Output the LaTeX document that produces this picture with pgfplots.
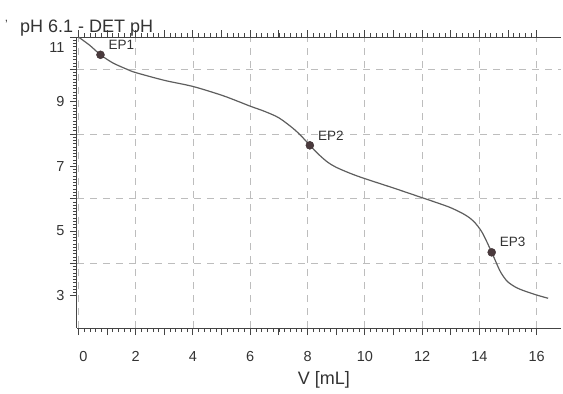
\documentclass[border=0pt]{standalone}
\usepackage{pgfplots}
\pgfplotsset{compat=1.18}
\usepackage{fontspec}
\setmainfont{Liberation Sans}
\definecolor{txt}{HTML}{333333}
\definecolor{curve}{HTML}{5E5E5E}
\definecolor{gridc}{HTML}{BDBDBD}
\definecolor{mk}{HTML}{4A3A3D}
\definecolor{axc}{HTML}{444444}
\begin{document}
\begin{tikzpicture}
\begin{axis}[
  name=ax,
  scale only axis, width=484pt, height=291pt,
  xmin=-0.05, xmax=16.85, ymin=2, ymax=11,
  separate axis lines,
  axis x line*=box, axis y line*=left,
  axis line style={draw=axc, line width=1pt},
  clip=false,
  xtick={0,2,...,16}, ytick={3,5,7,9,11},
  xticklabels={\hspace{10pt}0,2,4,6,8,10,12,14,16},
  yticklabels={3,5,7,9,\smash{\raisebox{-15pt}{11}}},
  minor x tick num=9, minor y tick num=19,
  tick align=outside,
  major tick length=7pt, minor tick length=4pt,
  every major tick/.style={draw=axc, line width=1pt},
  every minor tick/.style={draw=axc, line width=0.7pt},
  xmajorgrids=true,
  extra y ticks={4,6,8,10},
  extra y tick labels={},
  extra y tick style={grid=major},
  extra x ticks={1,3,...,15},
  extra x tick labels={},
  extra x tick style={grid=none},
  major grid style={draw=gridc, line width=0.9pt, dash pattern=on 7pt off 6pt},
  /pgf/number format/assume math mode=true,
  ticklabel style={font=\fontsize{14.5}{17}\selectfont, text=txt},
  xticklabel style={yshift=-13pt},
  yticklabel style={xshift=-2pt},
  xlabel={V [mL]},
  xlabel style={at={(axis description cs:0.51,-0.179)}, anchor=center,
    font=\fontsize{18}{21}\selectfont, text=txt},
]
\addplot[draw=curve, line width=1.2pt, smooth] coordinates {
(0,11.0) (0.4,10.74) (0.77,10.45) (1.2,10.2) (1.7,10.0) (2,9.9)
(3,9.66) (4,9.47) (5,9.2) (5.6,9.0) (6,8.86) (6.5,8.7) (7,8.5) (7.5,8.17)
(7.8,7.92) (8.08,7.65) (8.4,7.36) (8.7,7.13) (9,6.97) (9.5,6.78)
(10,6.62) (11,6.33) (12,6.03) (12.5,5.88) (13,5.72) (13.5,5.5)
(13.8,5.3) (14.1,4.95) (14.43,4.34) (14.7,3.8) (14.85,3.58) (15,3.42)
(15.25,3.27) (15.5,3.17) (16,3.02) (16.4,2.92)
};
\addplot[only marks, mark=*, mark size=4pt,
  mark options={fill=mk, draw=mk!80!black},
  nodes near coords, point meta=explicit symbolic,
  nodes near coords style={anchor=west, inner sep=0pt, xshift=8pt, yshift=10pt,
    font=\fontsize{13.5}{16}\selectfont, text=txt}]
coordinates {(0.77,10.45) [EP1] (8.08,7.65) [EP2] (14.43,4.34) [EP3]};
\node[anchor=base west, inner sep=0pt, font=\fontsize{18}{21}\selectfont, text=txt]
  at (rel axis cs:-0.1178,1.0172) {pH 6.1 - DET pH};
\node[anchor=base west, inner sep=0pt, font=\fontsize{12}{13}\selectfont, text=txt]
  at (rel axis cs:-0.149,1.03) {'};
\end{axis}
\pgfresetboundingbox
\path (ax.south west) ++(-77pt,-66pt) rectangle ++(563pt,394pt);
\end{tikzpicture}
\end{document}
